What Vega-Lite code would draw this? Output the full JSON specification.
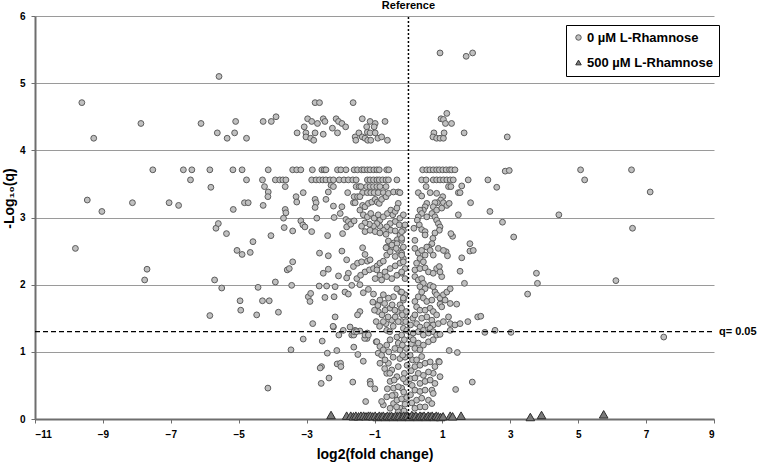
{
"$schema": "https://vega.github.io/schema/vega-lite/v6.json",
"width": 679, "height": 403,
"autosize": {"type": "none"},
"padding": {"left": 35, "top": 16, "right": 46, "bottom": 43},
"background": "white",
"config": {"font": "Liberation Sans", "view": {"stroke": null}},
"datasets": {
"circ": [
{"x":-9.62,"y":4.71},{"x":-9.27,"y":4.18},{"x":-7.88,"y":4.40},{"x":-6.11,"y":4.40},{"x":-5.58,"y":5.10},{"x":-5.63,"y":4.26},{"x":-5.34,"y":4.18},{"x":-5.09,"y":4.43},{"x":-5.12,"y":4.26},{"x":-4.77,"y":4.18},{"x":-4.28,"y":4.43},{"x":-4.04,"y":4.43},{"x":-3.90,"y":4.50},{"x":-3.28,"y":4.26},{"x":-3.07,"y":4.35},{"x":-3.02,"y":4.26},{"x":-3.02,"y":4.20},{"x":-2.97,"y":4.47},{"x":-2.85,"y":4.43},{"x":-2.88,"y":4.18},{"x":-2.79,"y":4.15},{"x":-2.75,"y":4.71},{"x":-2.62,"y":4.71},{"x":-2.75,"y":4.26},{"x":-2.68,"y":4.40},{"x":-2.51,"y":4.47},{"x":-2.46,"y":4.43},{"x":-2.51,"y":4.24},{"x":-2.24,"y":4.33},{"x":-2.13,"y":4.47},{"x":-2.09,"y":4.26},{"x":-2.06,"y":4.43},{"x":-1.96,"y":4.40},{"x":-1.85,"y":4.35},{"x":-1.63,"y":4.71},{"x":-1.57,"y":4.20},{"x":-1.55,"y":4.15},{"x":-1.46,"y":4.26},{"x":-1.36,"y":4.47},{"x":-1.36,"y":4.20},{"x":-1.28,"y":4.18},{"x":-1.20,"y":4.15},{"x":-1.11,"y":4.15},{"x":-1.23,"y":4.35},{"x":-1.21,"y":4.27},{"x":-1.13,"y":4.43},{"x":-0.98,"y":4.40},{"x":-1.13,"y":4.26},{"x":-1.01,"y":4.35},{"x":-0.98,"y":4.26},{"x":-0.90,"y":4.18},{"x":-0.69,"y":4.43},{"x":-0.79,"y":4.20},{"x":-0.62,"y":4.15},
{"x":0.93,"y":5.45},{"x":1.70,"y":5.40},{"x":1.89,"y":5.45},{"x":1.13,"y":4.55},{"x":0.96,"y":4.47},{"x":1.03,"y":4.46},{"x":1.09,"y":4.40},{"x":1.27,"y":4.40},{"x":0.75,"y":4.26},{"x":0.72,"y":4.20},{"x":0.83,"y":4.18},{"x":0.93,"y":4.18},{"x":1.03,"y":4.18},{"x":1.05,"y":4.26},{"x":1.64,"y":4.26},{"x":2.91,"y":4.20},
{"x":-7.53,"y":3.71},{"x":-6.63,"y":3.71},{"x":-6.38,"y":3.71},{"x":-5.85,"y":3.71},{"x":-5.17,"y":3.71},{"x":-4.90,"y":3.71},{"x":-4.13,"y":3.71},{"x":-3.41,"y":3.71},{"x":-3.29,"y":3.71},{"x":-3.17,"y":3.71},{"x":-2.83,"y":3.71},{"x":-2.55,"y":3.71},{"x":-2.48,"y":3.71},{"x":-2.43,"y":3.71},{"x":-2.09,"y":3.71},{"x":-1.99,"y":3.71},{"x":-1.84,"y":3.71},{"x":-1.60,"y":3.71},{"x":-1.50,"y":3.71},{"x":-1.38,"y":3.71},{"x":-1.31,"y":3.71},{"x":-1.21,"y":3.71},{"x":-1.13,"y":3.71},{"x":-1.02,"y":3.71},{"x":-0.93,"y":3.71},{"x":-0.86,"y":3.71},{"x":-0.64,"y":3.71},{"x":-0.58,"y":3.71},
{"x":0.42,"y":3.71},{"x":0.54,"y":3.71},{"x":0.63,"y":3.71},{"x":0.73,"y":3.71},{"x":0.83,"y":3.71},{"x":0.91,"y":3.71},{"x":1.01,"y":3.71},{"x":1.11,"y":3.71},{"x":1.21,"y":3.71},{"x":1.27,"y":3.71},{"x":1.37,"y":3.71},{"x":2.85,"y":3.69},{"x":2.97,"y":3.70},{"x":5.07,"y":3.71},{"x":6.57,"y":3.71},
{"x":-6.42,"y":3.56},{"x":-4.77,"y":3.56},{"x":-4.30,"y":3.56},{"x":-3.92,"y":3.56},{"x":-3.79,"y":3.56},{"x":-3.70,"y":3.56},{"x":-3.61,"y":3.56},{"x":-2.85,"y":3.56},{"x":-2.72,"y":3.56},{"x":-2.62,"y":3.56},{"x":-2.52,"y":3.56},{"x":-2.43,"y":3.56},{"x":-2.31,"y":3.56},{"x":-2.21,"y":3.56},{"x":-2.04,"y":3.56},{"x":-1.90,"y":3.56},{"x":-1.77,"y":3.56},{"x":-1.64,"y":3.56},{"x":-1.54,"y":3.56},{"x":-1.21,"y":3.56},{"x":-1.13,"y":3.56},{"x":-1.03,"y":3.56},{"x":-0.93,"y":3.56},{"x":-0.86,"y":3.56},{"x":-0.76,"y":3.56},{"x":-0.66,"y":3.56},{"x":-0.59,"y":3.56},{"x":-0.34,"y":3.56},
{"x":0.39,"y":3.56},{"x":0.52,"y":3.56},{"x":0.73,"y":3.56},{"x":0.83,"y":3.56},{"x":0.93,"y":3.56},{"x":1.03,"y":3.56},{"x":1.13,"y":3.56},{"x":1.23,"y":3.56},{"x":1.32,"y":3.56},{"x":1.76,"y":3.56},{"x":2.34,"y":3.56},{"x":5.19,"y":3.56},
{"x":-3.63,"y":3.46},{"x":-2.28,"y":3.48},{"x":-2.21,"y":3.46},{"x":-1.54,"y":3.46},{"x":-1.45,"y":3.46},{"x":-1.40,"y":3.46},{"x":-1.23,"y":3.46},{"x":-1.13,"y":3.46},{"x":-1.03,"y":3.46},{"x":-0.93,"y":3.46},{"x":-0.84,"y":3.46},{"x":-0.66,"y":3.46},{"x":-5.82,"y":3.45},{"x":-4.24,"y":3.46},
{"x":-1.35,"y":3.37},{"x":-1.21,"y":3.37},{"x":-1.11,"y":3.37},{"x":-1.01,"y":3.37},{"x":-0.89,"y":3.37},{"x":-0.74,"y":3.37},
{"x":-9.46,"y":3.26},{"x":-9.03,"y":3.09},{"x":-9.81,"y":2.54},{"x":-8.13,"y":3.22},{"x":-7.70,"y":2.23},{"x":-7.77,"y":2.07},{"x":-7.05,"y":3.22},{"x":-6.77,"y":3.18},{"x":-5.67,"y":2.84},{"x":-5.60,"y":2.91},{"x":-5.71,"y":2.07},{"x":-5.50,"y":1.95},{"x":-5.36,"y":2.76},{"x":-5.16,"y":3.12},{"x":-5.05,"y":2.51},{"x":-4.90,"y":2.45},{"x":-4.83,"y":3.22},{"x":-4.72,"y":3.22},{"x":-4.66,"y":2.48},{"x":-4.58,"y":2.64},{"x":-4.96,"y":1.76},{"x":-4.43,"y":1.96},{"x":-4.13,"y":3.38},{"x":-4.14,"y":3.31},{"x":-4.28,"y":3.18},{"x":-4.30,"y":1.76},{"x":-4.10,"y":1.76},{"x":-4.05,"y":2.73},{"x":-3.92,"y":2.04},
{"x":-3.10,"y":3.37},{"x":-3.31,"y":3.31},{"x":-3.29,"y":3.23},{"x":-3.63,"y":3.12},{"x":-3.61,"y":3.07},{"x":-3.68,"y":2.99},{"x":-3.17,"y":2.95},{"x":-3.11,"y":2.89},{"x":-3.05,"y":2.86},{"x":-3.66,"y":2.85},{"x":-3.41,"y":2.80},{"x":-2.85,"y":2.79},{"x":-2.75,"y":3.27},{"x":-2.72,"y":3.22},{"x":-2.75,"y":3.15},{"x":-2.70,"y":2.99},{"x":-2.43,"y":3.27},{"x":-2.36,"y":3.38},{"x":-2.21,"y":3.17},{"x":-2.19,"y":3.00},{"x":-2.01,"y":3.06},{"x":-1.96,"y":3.16},{"x":-1.94,"y":2.76},{"x":-1.84,"y":2.97},{"x":-1.77,"y":2.94},{"x":-1.82,"y":2.86},{"x":-1.70,"y":2.90},{"x":-1.60,"y":2.95},{"x":-1.79,"y":3.37},{"x":-1.62,"y":3.22},{"x":-1.57,"y":3.22},{"x":-1.60,"y":3.31},{"x":-1.50,"y":3.31},{"x":-1.43,"y":3.31},{"x":-2.38,"y":2.73},
{"x":-1.43,"y":3.11},{"x":-1.35,"y":3.18},{"x":-1.28,"y":3.16},{"x":-1.18,"y":3.21},{"x":-1.08,"y":3.23},{"x":-0.98,"y":3.27},{"x":-0.92,"y":3.23},{"x":-0.86,"y":3.21},{"x":-0.79,"y":3.27},{"x":-0.66,"y":3.31},{"x":-0.59,"y":3.36},{"x":-0.44,"y":3.38},{"x":-0.30,"y":3.38},{"x":-0.25,"y":3.37},
{"x":-1.33,"y":3.04},{"x":-1.21,"y":3.01},{"x":-1.11,"y":3.06},{"x":-1.01,"y":2.99},{"x":-0.89,"y":3.04},{"x":-0.84,"y":2.96},{"x":-0.74,"y":3.01},{"x":-0.62,"y":3.06},{"x":-0.52,"y":3.11},{"x":-0.46,"y":3.04},{"x":-0.39,"y":3.09},{"x":-0.30,"y":3.21},{"x":-0.34,"y":3.14},{"x":-0.25,"y":2.99},{"x":-0.15,"y":3.04},{"x":-0.39,"y":2.94},{"x":-0.27,"y":2.89},{"x":-0.54,"y":2.91},{"x":-0.64,"y":2.86},{"x":-0.74,"y":2.81},{"x":-0.84,"y":2.87},{"x":-0.93,"y":2.91},{"x":-1.03,"y":2.87},{"x":-1.15,"y":2.90},{"x":-1.28,"y":2.92},{"x":-1.38,"y":2.87},{"x":-1.28,"y":2.79},{"x":-1.13,"y":2.81},{"x":-0.98,"y":2.79},{"x":-0.84,"y":2.77},{"x":-0.66,"y":2.75},{"x":-0.52,"y":2.81},{"x":-0.39,"y":2.80},{"x":-0.25,"y":2.74},{"x":-0.33,"y":2.67},{"x":-0.44,"y":2.62},{"x":-0.59,"y":2.65},{"x":-0.64,"y":2.56},{"x":-0.49,"y":2.56},{"x":-0.34,"y":2.61},{"x":-0.20,"y":2.66},{"x":-0.15,"y":2.81},{"x":-0.10,"y":2.89},{"x":-0.20,"y":2.79},{"x":-0.20,"y":2.69},{"x":-0.15,"y":2.56},
{"x":0.52,"y":3.46},{"x":1.18,"y":3.46},{"x":1.25,"y":3.46},{"x":1.57,"y":3.47},{"x":0.29,"y":3.37},{"x":0.39,"y":3.32},{"x":0.64,"y":3.37},{"x":0.83,"y":3.36},{"x":1.01,"y":3.31},{"x":0.95,"y":3.26},{"x":0.85,"y":3.22},{"x":0.78,"y":3.22},{"x":1.03,"y":3.22},{"x":0.73,"y":3.16},{"x":0.54,"y":3.21},{"x":0.49,"y":3.16},{"x":0.44,"y":3.11},{"x":0.34,"y":3.11},{"x":0.39,"y":3.06},{"x":0.29,"y":3.01},{"x":0.26,"y":2.96},{"x":0.32,"y":2.89},{"x":0.39,"y":2.82},{"x":0.49,"y":2.79},{"x":0.54,"y":3.01},{"x":0.69,"y":3.06},{"x":0.78,"y":3.01},{"x":0.83,"y":2.96},{"x":0.88,"y":2.91},{"x":0.93,"y":2.86},{"x":0.91,"y":2.81},{"x":0.78,"y":2.77},{"x":0.72,"y":2.69},{"x":0.69,"y":2.61},{"x":0.59,"y":2.56},{"x":0.49,"y":2.74},{"x":0.83,"y":3.11},{"x":0.98,"y":3.14},{"x":1.13,"y":3.18},{"x":1.20,"y":3.21},{"x":1.47,"y":3.04},{"x":1.83,"y":3.22},{"x":2.40,"y":3.09},{"x":1.47,"y":3.37},{"x":1.52,"y":3.37},{"x":0.16,"y":2.84},{"x":0.19,"y":2.66},{"x":1.30,"y":2.72},{"x":1.25,"y":2.76},{"x":1.11,"y":2.49},{"x":1.15,"y":2.43},
{"x":2.60,"y":3.45},{"x":4.43,"y":3.04},{"x":7.12,"y":3.38},{"x":6.60,"y":2.84},{"x":3.77,"y":2.17},{"x":3.80,"y":2.02},{"x":6.11,"y":2.06},{"x":3.51,"y":1.86},{"x":2.77,"y":2.93},{"x":3.10,"y":2.71},{"x":1.81,"y":2.61},{"x":1.81,"y":2.50},{"x":1.91,"y":2.51},
{"x":-2.62,"y":2.47},{"x":-1.96,"y":2.50},{"x":-2.36,"y":2.43},{"x":-1.35,"y":2.55},{"x":-1.28,"y":2.45},{"x":-3.57,"y":2.22},{"x":-3.51,"y":2.24},{"x":-3.41,"y":2.34},{"x":-2.51,"y":2.17},{"x":-2.36,"y":2.23},{"x":-2.06,"y":2.13},{"x":-1.82,"y":2.37},{"x":-1.62,"y":2.27},{"x":-1.50,"y":2.32},{"x":-1.38,"y":2.34},{"x":-1.21,"y":2.35},{"x":-1.13,"y":2.37},{"x":-1.77,"y":2.17},{"x":-1.82,"y":2.10},{"x":-1.52,"y":2.09},{"x":-1.41,"y":2.14},{"x":-1.28,"y":2.19},{"x":-1.15,"y":2.22},{"x":-1.03,"y":2.24},{"x":-0.92,"y":2.28},{"x":-0.84,"y":2.32},{"x":-0.74,"y":2.35},{"x":-0.64,"y":2.44},{"x":-0.54,"y":2.49},{"x":-0.39,"y":2.42},{"x":-0.30,"y":2.51},{"x":-0.66,"y":2.55},{"x":-0.49,"y":2.59},{"x":-0.36,"y":2.54},{"x":-0.20,"y":2.47},{"x":-0.15,"y":2.39},{"x":-0.25,"y":2.32},{"x":-0.39,"y":2.28},{"x":-0.54,"y":2.24},{"x":-0.69,"y":2.19},{"x":-0.84,"y":2.14},{"x":-0.98,"y":2.09},{"x":-0.93,"y":2.22},{"x":-0.79,"y":2.07},{"x":-0.64,"y":2.12},{"x":-0.49,"y":2.09},{"x":-0.34,"y":2.14},{"x":-0.20,"y":2.17},{"x":-0.10,"y":2.24},{"x":-0.15,"y":2.34},{"x":-0.20,"y":2.44},{"x":-0.20,"y":2.19},{"x":-0.10,"y":2.09},
{"x":-3.44,"y":1.99},{"x":-2.63,"y":1.98},{"x":-2.41,"y":1.98},{"x":-2.16,"y":1.97},{"x":-1.67,"y":1.99},{"x":-1.43,"y":2.00},{"x":-2.95,"y":1.82},{"x":-2.88,"y":1.87},{"x":-2.90,"y":1.75},{"x":-2.46,"y":1.81},{"x":-2.19,"y":1.82},{"x":-1.87,"y":1.89},{"x":-1.77,"y":1.86},{"x":-1.33,"y":1.88},{"x":-1.18,"y":1.93},{"x":-1.03,"y":1.86},{"x":-1.05,"y":1.74},{"x":-0.89,"y":1.71},{"x":-0.89,"y":1.60},{"x":-0.69,"y":1.62},{"x":-0.54,"y":1.65},{"x":-0.66,"y":1.42},{"x":-0.74,"y":1.45},{"x":-0.64,"y":1.32},{"x":-0.49,"y":1.47},{"x":-0.39,"y":1.52},{"x":-0.33,"y":1.60},{"x":-0.25,"y":1.70},{"x":-0.15,"y":1.77},{"x":-0.10,"y":1.85},{"x":-0.23,"y":1.89},{"x":-0.34,"y":1.94},{"x":-0.44,"y":1.82},{"x":-0.59,"y":1.80},{"x":-0.74,"y":1.85},{"x":-0.84,"y":1.77},{"x":-1.43,"y":1.60},{"x":-1.50,"y":1.55},{"x":-2.16,"y":1.52},{"x":-2.82,"y":1.42},{"x":-2.21,"y":1.37},{"x":-1.92,"y":1.32},{"x":-1.72,"y":1.37},{"x":-1.57,"y":1.32},{"x":-1.43,"y":1.31},{"x":-1.21,"y":1.28},{"x":-0.20,"y":1.89},{"x":-0.15,"y":1.80},{"x":-0.20,"y":1.65},{"x":-0.10,"y":1.55},{"x":-0.20,"y":1.45},{"x":-0.15,"y":1.35},
{"x":-5.85,"y":1.54},{"x":-4.94,"y":1.62},{"x":-4.47,"y":1.55},{"x":-3.83,"y":1.59},{"x":-3.10,"y":1.19},{"x":-3.46,"y":1.03},{"x":-4.14,"y":0.46},{"x":-2.54,"y":1.16},{"x":-2.39,"y":0.98},{"x":-2.56,"y":0.78},{"x":-2.60,"y":0.76},{"x":-2.57,"y":0.53},{"x":-2.34,"y":0.61},{"x":-2.22,"y":1.38},{"x":-2.11,"y":1.02},{"x":-2.10,"y":0.82},{"x":-2.00,"y":0.83},{"x":-1.99,"y":0.78},{"x":-2.05,"y":1.25},{"x":-1.67,"y":1.25},{"x":-1.61,"y":1.25},{"x":-1.60,"y":1.30},{"x":-1.53,"y":1.30},{"x":-1.61,"y":1.07},{"x":-1.49,"y":0.96},{"x":-1.64,"y":0.55},{"x":-1.33,"y":0.86},{"x":-1.26,"y":0.26},{"x":-1.23,"y":1.26},{"x":-1.22,"y":1.20},{"x":-1.29,"y":1.20},{"x":-1.13,"y":0.56},{"x":-1.12,"y":0.52},{"x":-0.99,"y":0.45},{"x":-0.95,"y":1.15},{"x":-0.90,"y":1.69},{"x":-1.28,"y":1.25},{"x":-1.18,"y":1.25},
{"x":-0.93,"y":1.15},{"x":-0.84,"y":1.08},{"x":-0.89,"y":0.98},{"x":-0.79,"y":0.95},{"x":-0.74,"y":1.03},{"x":-0.64,"y":1.10},{"x":-0.54,"y":1.18},{"x":-0.59,"y":0.83},{"x":-0.69,"y":0.88},{"x":-0.84,"y":0.83},{"x":-0.49,"y":0.73},{"x":-0.64,"y":0.68},{"x":-0.54,"y":0.56},{"x":-0.44,"y":0.46},{"x":-0.39,"y":0.36},{"x":-0.34,"y":0.63},{"x":-0.30,"y":0.78},{"x":-0.25,"y":0.90},{"x":-0.25,"y":1.03},{"x":-0.30,"y":1.13},{"x":-0.34,"y":1.22},{"x":-0.20,"y":1.25},{"x":-0.20,"y":0.46},{"x":-0.44,"y":0.23},{"x":-0.54,"y":0.16},{"x":-0.74,"y":0.21},{"x":-0.79,"y":0.26},{"x":-0.64,"y":0.33},{"x":-0.34,"y":0.28},{"x":-0.25,"y":0.16},{"x":-0.30,"y":0.11},
{"x":-0.95,"y":1.45},{"x":-0.85,"y":1.38},{"x":-0.78,"y":1.55},{"x":-0.60,"y":1.52},{"x":-0.45,"y":1.38},{"x":-0.30,"y":1.45},{"x":-0.55,"y":1.30},{"x":-1.00,"y":1.62},{"x":-0.70,"y":1.72},{"x":-0.48,"y":1.70},{"x":-0.40,"y":1.62},{"x":-0.18,"y":1.55},{"x":-0.58,"y":1.00},{"x":-0.45,"y":0.92},{"x":-0.40,"y":1.05},{"x":-0.70,"y":0.75},{"x":-0.55,"y":0.68},{"x":-0.42,"y":0.58},{"x":-0.30,"y":0.48},{"x":-0.48,"y":0.35},{"x":-0.62,"y":0.45},{"x":-0.35,"y":0.18},{"x":-0.20,"y":0.30},
{"x":-0.08,"y":1.45},{"x":-0.05,"y":1.32},{"x":-0.12,"y":1.18},{"x":-0.06,"y":1.05},{"x":-0.10,"y":0.92},{"x":-0.04,"y":0.80},{"x":-0.12,"y":0.68},{"x":-0.07,"y":0.55},{"x":-0.14,"y":0.40},{"x":-0.05,"y":0.32},{"x":-0.10,"y":0.22},{"x":-0.15,"y":0.60},{"x":-0.17,"y":0.95},{"x":-0.18,"y":1.10},{"x":-0.13,"y":0.12},{"x":-0.06,"y":1.60},
{"x":0.06,"y":1.40},{"x":0.09,"y":1.12},{"x":0.05,"y":0.95},{"x":0.08,"y":0.72},{"x":0.11,"y":0.50},{"x":0.06,"y":0.36},{"x":0.10,"y":0.24},{"x":0.05,"y":0.60},{"x":0.12,"y":0.88},{"x":0.07,"y":1.22},{"x":0.13,"y":1.50},
{"x":0.19,"y":2.54},{"x":0.29,"y":2.47},{"x":0.39,"y":2.51},{"x":0.49,"y":2.44},{"x":0.54,"y":2.56},{"x":0.64,"y":2.51},{"x":0.34,"y":2.39},{"x":0.44,"y":2.34},{"x":0.24,"y":2.32},{"x":0.19,"y":2.22},{"x":0.34,"y":2.24},{"x":0.49,"y":2.25},{"x":0.59,"y":2.19},{"x":0.73,"y":2.17},{"x":0.83,"y":2.24},{"x":0.91,"y":2.27},{"x":0.98,"y":2.12},{"x":0.93,"y":2.19},{"x":0.73,"y":2.44},{"x":0.88,"y":2.54},{"x":1.03,"y":2.51},{"x":1.57,"y":2.40},{"x":1.52,"y":2.20},{"x":1.65,"y":2.02},{"x":0.19,"y":2.12},{"x":0.29,"y":2.07},{"x":0.39,"y":2.09},{"x":0.44,"y":2.02},{"x":0.34,"y":1.97},{"x":0.49,"y":1.94},{"x":0.64,"y":1.99},{"x":0.73,"y":1.97},{"x":0.78,"y":1.89},{"x":0.83,"y":1.85},{"x":0.93,"y":1.80},{"x":1.03,"y":1.85},{"x":1.08,"y":1.77},{"x":0.93,"y":1.71},{"x":0.98,"y":1.67},{"x":1.23,"y":1.72},{"x":1.42,"y":1.71},{"x":1.13,"y":1.89},{"x":1.23,"y":1.94},{"x":0.39,"y":1.89},{"x":0.29,"y":1.82},{"x":0.44,"y":1.80},{"x":0.54,"y":1.75},{"x":0.69,"y":1.77},{"x":0.19,"y":1.75},{"x":0.24,"y":1.67},{"x":0.34,"y":1.62},{"x":0.49,"y":1.62},{"x":0.64,"y":1.65},{"x":0.73,"y":1.60},{"x":0.83,"y":1.55},{"x":0.69,"y":1.47},{"x":0.54,"y":1.52},{"x":0.39,"y":1.50},{"x":0.24,"y":1.42},{"x":0.19,"y":1.55},{"x":0.34,"y":1.37},{"x":0.54,"y":1.40},{"x":0.73,"y":1.40},{"x":0.88,"y":1.42},{"x":1.03,"y":1.45},{"x":1.18,"y":1.52},{"x":1.23,"y":1.42},{"x":1.37,"y":1.40},{"x":1.52,"y":1.42},{"x":1.75,"y":1.45},{"x":2.04,"y":1.52},{"x":2.13,"y":1.53},{"x":0.44,"y":1.32},{"x":0.64,"y":1.35},{"x":2.25,"y":1.29},{"x":2.55,"y":1.32},{"x":3.02,"y":1.29},{"x":7.52,"y":1.22},{"x":1.20,"y":1.02},{"x":1.44,"y":0.99},{"x":0.89,"y":0.86},{"x":1.88,"y":0.55},{"x":1.39,"y":0.44},
{"x":0.14,"y":1.28},{"x":0.29,"y":1.30},{"x":0.44,"y":1.25},{"x":0.59,"y":1.28},{"x":0.73,"y":1.30},{"x":0.83,"y":1.25},{"x":0.93,"y":1.26},{"x":1.23,"y":1.32},{"x":0.14,"y":1.18},{"x":0.29,"y":1.13},{"x":0.19,"y":1.05},{"x":0.34,"y":1.03},{"x":0.44,"y":1.10},{"x":0.59,"y":1.15},{"x":0.73,"y":1.18},{"x":0.39,"y":0.93},{"x":0.24,"y":0.88},{"x":0.19,"y":0.78},{"x":0.34,"y":0.80},{"x":0.49,"y":0.83},{"x":0.64,"y":0.85},{"x":0.78,"y":0.78},{"x":0.91,"y":0.85},{"x":0.73,"y":0.68},{"x":0.59,"y":0.70},{"x":0.44,"y":0.65},{"x":0.29,"y":0.68},{"x":0.19,"y":0.61},{"x":0.34,"y":0.53},{"x":0.49,"y":0.56},{"x":0.64,"y":0.58},{"x":0.78,"y":0.53},{"x":0.93,"y":0.63},{"x":0.19,"y":0.43},{"x":0.34,"y":0.41},{"x":0.49,"y":0.43},{"x":0.69,"y":0.43},{"x":0.73,"y":0.38},{"x":0.24,"y":0.28},{"x":0.39,"y":0.31},{"x":0.59,"y":0.28},{"x":0.69,"y":0.23},{"x":0.34,"y":0.18},{"x":0.49,"y":0.18},{"x":0.19,"y":0.16}
],
"tri": [
{"x":-2.28,"y":0.06},{"x":-1.82,"y":0.05},{"x":-1.70,"y":0.05},{"x":-1.62,"y":0.04},{"x":-1.55,"y":0.05},{"x":-1.47,"y":0.04},{"x":-1.40,"y":0.05},{"x":-1.32,"y":0.05},{"x":-1.25,"y":0.04},{"x":-1.18,"y":0.05},{"x":-1.12,"y":0.05},{"x":-1.05,"y":0.04},{"x":-0.98,"y":0.05},{"x":-0.92,"y":0.03},{"x":-0.86,"y":0.05},{"x":-0.80,"y":0.04},{"x":-0.74,"y":0.05},{"x":-0.68,"y":0.03},{"x":-0.62,"y":0.05},{"x":-0.56,"y":0.04},{"x":-0.50,"y":0.05},{"x":-0.44,"y":0.03},{"x":-0.38,"y":0.05},{"x":-0.32,"y":0.04},{"x":-0.26,"y":0.05},{"x":-0.20,"y":0.03},{"x":-0.14,"y":0.05},{"x":-0.08,"y":0.04},{"x":-0.02,"y":0.05},{"x":0.04,"y":0.03},{"x":0.10,"y":0.06},{"x":0.16,"y":0.04},{"x":0.22,"y":0.05},{"x":0.28,"y":0.03},{"x":0.34,"y":0.05},{"x":0.40,"y":0.04},{"x":0.46,"y":0.05},{"x":0.52,"y":0.03},{"x":0.58,"y":0.05},{"x":0.64,"y":0.04},{"x":0.70,"y":0.05},{"x":0.76,"y":0.03},{"x":0.82,"y":0.05},{"x":0.88,"y":0.04},{"x":0.95,"y":0.03},{"x":1.02,"y":0.04},{"x":1.23,"y":0.05},{"x":1.30,"y":0.04},{"x":1.55,"y":0.05},{"x":3.59,"y":0.03},{"x":3.92,"y":0.06},{"x":5.75,"y":0.07}
],
"refline": [{"x": 0, "label": "Reference"}],
"qline": [{"y": 1.301, "label": "q= 0.05"}]
},
"layer": [
{
"data": {"name": "circ"},
"mark": {"type": "point", "filled": true, "size": 34, "strokeWidth": 1, "opacity": 1},
"encoding": {
"x": {"field": "x", "type": "quantitative", "scale": {"domain": [-11, 9], "nice": false, "zero": false},
 "axis": {"values": [-11, -9, -7, -5, -3, -1, 1, 3, 5, 7, 9], "format": "d", "title": "log2(fold change)", "titleFontSize": 14, "titleFontWeight": "bold", "titleColor": "black", "titlePadding": 8, "labelFontSize": 10, "labelFontWeight": "bold", "labelColor": "black", "labelPadding": 6, "grid": false, "domainColor": "#6e6e6e", "domainWidth": 2, "tickColor": "#6e6e6e", "tickSize": 4, "tickWidth": 1}},
"y": {"field": "y", "type": "quantitative", "scale": {"domain": [0, 6], "nice": false, "zero": false},
 "axis": {"values": [0, 1, 2, 3, 4, 5, 6], "format": "d", "title": "-Log₁₀(q)", "titleFontSize": 14, "titleFontWeight": "bold", "titleColor": "black", "titleX": -19, "titleY": 182, "labelFontSize": 10, "labelFontWeight": "bold", "labelColor": "black", "labelPadding": 6, "grid": true, "gridColor": "#9a9a9a", "gridWidth": 1, "domainColor": "#6e6e6e", "domainWidth": 2, "tickColor": "#6e6e6e", "tickSize": 4, "tickWidth": 1}},
"shape": {"datum": "0 µM L-Rhamnose", "type": "nominal", "scale": {"domain": ["0 µM L-Rhamnose", "500 µM L-Rhamnose"], "range": ["circle", "triangle-up"]},
 "legend": {"title": null, "orient": "none", "legendX": 531, "legendY": 9, "strokeColor": "black", "fillColor": "white", "padding": 6, "labelFontSize": 13, "labelFontWeight": "bold", "labelColor": "black", "rowPadding": 11, "symbolSize": 30, "symbolStrokeWidth": 1, "labelOffset": 2}},
"fill": {"datum": "0 µM L-Rhamnose", "type": "nominal", "scale": {"domain": ["0 µM L-Rhamnose", "500 µM L-Rhamnose"], "range": ["#c0c0c0", "#7a7a7a"]}, "legend": {"title": null}},
"stroke": {"datum": "0 µM L-Rhamnose", "type": "nominal", "scale": {"domain": ["0 µM L-Rhamnose", "500 µM L-Rhamnose"], "range": ["#5c5c5c", "#2e2e2e"]}, "legend": {"title": null}}
}
},
{
"data": {"name": "tri"},
"mark": {"type": "point", "filled": true, "size": 75, "strokeWidth": 1, "opacity": 1},
"encoding": {
"x": {"field": "x", "type": "quantitative"},
"y": {"field": "y", "type": "quantitative"},
"shape": {"datum": "500 µM L-Rhamnose", "type": "nominal"},
"fill": {"datum": "500 µM L-Rhamnose", "type": "nominal"},
"stroke": {"datum": "500 µM L-Rhamnose", "type": "nominal"}
}
},
{
"data": {"name": "refline"},
"mark": {"type": "rule", "color": "black", "strokeWidth": 1.5, "strokeDash": [2, 2]},
"encoding": {"x": {"field": "x", "type": "quantitative"}, "y": {"datum": 0}, "y2": {"datum": 6}}
},
{
"data": {"name": "refline"},
"mark": {"type": "text", "dy": -10, "fontSize": 11, "fontWeight": "bold", "color": "black", "baseline": "middle"},
"encoding": {"x": {"field": "x", "type": "quantitative"}, "y": {"datum": 6}, "text": {"field": "label"}}
},
{
"data": {"name": "qline"},
"mark": {"type": "rule", "color": "black", "strokeWidth": 1.3, "strokeDash": [5, 3]},
"encoding": {"y": {"field": "y", "type": "quantitative"}, "x": {"datum": -11}, "x2": {"datum": 9}}
},
{
"data": {"name": "qline"},
"mark": {"type": "text", "dx": 5, "align": "left", "fontSize": 11, "fontWeight": "bold", "color": "black", "baseline": "middle"},
"encoding": {"y": {"field": "y", "type": "quantitative"}, "x": {"datum": 9}, "text": {"field": "label"}}
}
]
}
